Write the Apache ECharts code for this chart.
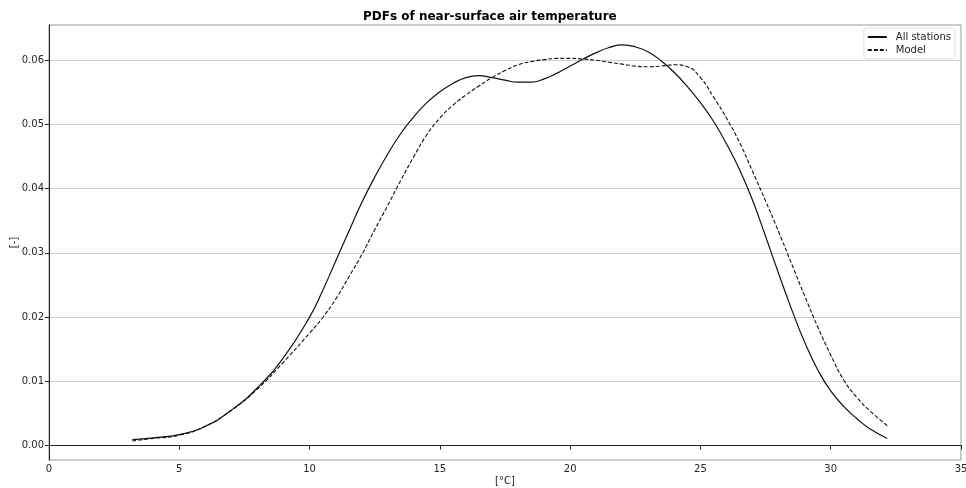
<!DOCTYPE html>
<html>
<head>
<meta charset="utf-8">
<script src="https://cdn.jsdelivr.net/npm/echarts@6/dist/echarts.min.js"></script>
<style>html,body{margin:0;padding:0;background:#fff}#c{width:966px;height:488px}</style>
</head>
<body>
<div id="c"></div>
<script>
const titleText = 'PDFs of near-surface air temperature';
const seriesNames = ['All stations', 'Model'];
const xTicks = [0, 5, 10, 15, 20, 25, 30, 35];
const yTicks = [0.00, 0.01, 0.02, 0.03, 0.04, 0.05, 0.06];

const stationsX = [3.2, 4, 5, 6, 7, 8, 9, 10, 10.5, 11, 11.5, 12, 12.5, 13, 13.5, 14, 14.5, 15, 15.5, 16, 16.5, 17, 17.5, 18, 18.5, 19, 19.5, 20, 20.5, 21, 21.5, 22, 22.5, 23, 23.5, 24, 24.5, 25, 25.5, 26, 26.5, 27, 27.5, 28, 28.5, 29, 29.5, 30, 30.5, 31, 31.5, 32.17];
const stationsY = [0.0009, 0.0012, 0.0017, 0.0030, 0.0055, 0.0090, 0.0137, 0.0200, 0.0241, 0.0287, 0.0333, 0.0378, 0.0418, 0.0454, 0.0486, 0.0512, 0.0534, 0.0551, 0.0564, 0.0573, 0.0576, 0.0573, 0.0569, 0.0566, 0.0566, 0.0571, 0.0580, 0.0591, 0.0602, 0.0612, 0.0620, 0.0624, 0.0621, 0.0613, 0.0599, 0.0581, 0.0559, 0.0534, 0.0505, 0.0470, 0.0430, 0.0382, 0.0326, 0.0268, 0.0212, 0.0161, 0.0118, 0.0085, 0.0061, 0.0042, 0.0026, 0.0011];

const modelX = [3.2, 4, 5, 6, 7, 8, 9, 10, 10.5, 11, 11.5, 12, 12.5, 13, 13.5, 14, 14.5, 15, 15.5, 16, 16.5, 17, 17.5, 18, 18.5, 19, 19.5, 20, 20.5, 21, 21.5, 22, 22.5, 23, 23.5, 24, 24.5, 25, 25.5, 26, 26.5, 27, 27.5, 28, 28.5, 29, 29.5, 30, 30.5, 31, 31.5, 32.17];
const modelY = [0.0007, 0.0011, 0.0016, 0.0030, 0.0055, 0.0088, 0.0130, 0.0175, 0.0199, 0.0228, 0.0262, 0.0297, 0.0336, 0.0374, 0.0413, 0.0450, 0.0484, 0.0510, 0.0530, 0.0546, 0.0560, 0.0573, 0.0584, 0.0593, 0.0598, 0.0601, 0.0603, 0.0603, 0.0602, 0.0600, 0.0597, 0.0594, 0.0591, 0.0590, 0.0591, 0.0593, 0.0590, 0.0573, 0.0543, 0.0510, 0.0472, 0.0427, 0.0381, 0.0333, 0.0283, 0.0233, 0.0185, 0.0141, 0.0102, 0.0075, 0.0054, 0.0031];

const pairs = (xs, ys) => xs.map((x, i) => [x, ys[i]]);
const FONT = 'DejaVu Sans';
const TXT = '#262626';

const chart = echarts.init(document.getElementById('c'), null, {renderer: 'canvas'});
chart.setOption({
  animation: false,
  backgroundColor: '#ffffff',
  title: {
    text: titleText,
    left: 358,
    top: 6,
    textStyle: {fontFamily: FONT, fontWeight: 'bold', fontSize: 12, color: '#000'}
  },
  legend: {
    orient: 'vertical',
    right: 11,
    top: 28,
    itemWidth: 19,
    itemHeight: 10,
    itemGap: 3,
    padding: [4, 4, 4, 3],
    backgroundColor: '#fff',
    borderColor: '#dddddd',
    borderWidth: 1,
    borderRadius: 3,
    itemStyle: {opacity: 0},
    textStyle: {fontFamily: FONT, fontSize: 10, color: TXT, padding: [0, 0, 0, 4]},
    data: seriesNames
  },
  grid: {
    left: 49, right: 5, top: 25, bottom: 28,
    containLabel: false,
    outerBoundsMode: 'none',
    show: true, borderColor: '#999', borderWidth: 1
  },
  xAxis: {
    type: 'value',
    min: 0, max: 35, interval: 5,
    name: '[°C]',
    nameLocation: 'middle',
    nameGap: 16,
    nameMoveOverlap: false,
    nameTextStyle: {fontFamily: FONT, fontSize: 10, color: TXT},
    axisLine: {show: true, lineStyle: {color: '#222', width: 1}},
    axisTick: {show: true, length: 4, lineStyle: {color: '#222'}},
    axisLabel: {fontFamily: FONT, fontSize: 10, color: TXT, margin: 4, customValues: xTicks},
    splitLine: {show: false}
  },
  yAxis: {
    type: 'value',
    min: -0.00226, max: 0.0655,
    name: '[-]',
    nameLocation: 'middle',
    nameGap: 30,
    nameMoveOverlap: false,
    nameRotate: 90,
    nameTextStyle: {fontFamily: FONT, fontSize: 10, color: TXT},
    axisLine: {show: true, lineStyle: {color: '#222', width: 1}},
    axisTick: {show: true, length: 4, lineStyle: {color: '#222'}, customValues: yTicks},
    axisLabel: {fontFamily: FONT, fontSize: 10, color: TXT, margin: 5, customValues: yTicks,
      formatter: v => v.toFixed(2)},
    splitLine: {show: true, lineStyle: {color: '#d0d0d0', width: 1}}
  },
  series: [
    {
      name: seriesNames[0], type: 'line', data: pairs(stationsX, stationsY),
      smooth: 0.5, symbol: 'none', showSymbol: false,
      lineStyle: {color: '#111', width: 1.2, type: 'solid'},
      itemStyle: {color: '#111'}
    },
    {
      name: seriesNames[1], type: 'line', data: pairs(modelX, modelY),
      smooth: 0.5, symbol: 'none', showSymbol: false,
      lineStyle: {color: '#111', width: 1.1, type: [4, 2]},
      itemStyle: {color: '#111'}
    }
  ]
});
</script>
</body>
</html>
